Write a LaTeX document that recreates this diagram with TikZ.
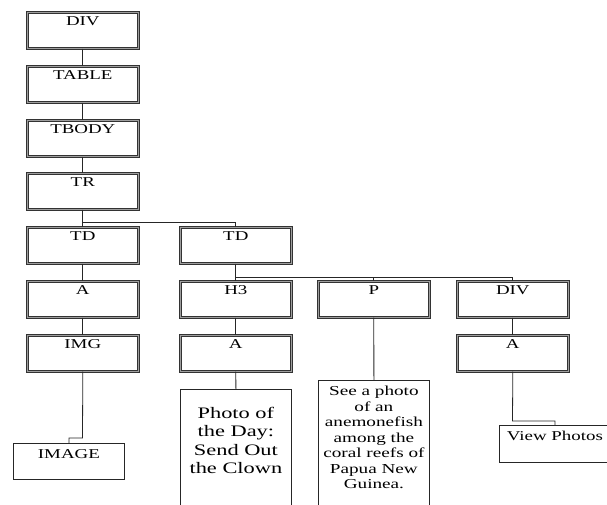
\documentclass[tikz,border=0pt]{standalone}
\usepackage{fontspec}
\setmainfont{Liberation Serif}
\begin{document}
\begin{tikzpicture}[x=1pt,y=-1pt,
  dbox/.style={draw=black!80, line width=0.6pt, double=black!38, double distance=1.6pt,
    minimum width=111pt, minimum height=36pt, anchor=north west, inner sep=0pt},
  sbox/.style={draw=black!85, line width=0.8pt, anchor=north west, inner sep=0pt,
    minimum width=111pt},
  lab/.style={anchor=north, inner sep=0pt, yshift=-4.5pt, xscale=1.4, transform shape,
    font=\fontsize{13.5}{15.5}\selectfont},
  conn/.style={draw=black!85, line width=0.8pt}]
\useasboundingbox (0,0) rectangle (607,504);
\clip (0,0) rectangle (607,504);
% column 1
\node[dbox, label={[lab]north:DIV}] (div) at (27,12) {};
\node[dbox, label={[lab]north:TABLE}] (table) at (27,66) {};
\node[dbox, label={[lab]north:TBODY}] (tbody) at (27,120) {};
\node[dbox, label={[lab]north:TR}] (tr) at (27,173) {};
\node[dbox, label={[lab]north:TD}] (td1) at (27,227) {};
\node[dbox, label={[lab]north:A}] (a1) at (27,281) {};
\node[dbox, label={[lab]north:IMG}] (img) at (27,335) {};
\node[sbox, minimum height=36pt, label={[lab,yshift=-1.5pt]north:IMAGE}] (image) at (13,443) {};
% column 2
\node[dbox, label={[lab]north:TD}] (td2) at (180,227) {};
\node[dbox, label={[lab]north:H3}] (h3) at (180,281) {};
\node[dbox, label={[lab]north:A}] (a2) at (180,335) {};
\node[sbox, minimum height=140pt, label={[lab, yshift=-13.5pt, align=center,
  font=\fontsize{16}{18.3}\selectfont]north:Photo of\\the Day:\\Send Out\\the Clown}] (photo) at (180,389) {};
% column 3
\node[dbox, label={[lab]north:P}] (p) at (318,281) {};
\node[sbox, minimum height=150pt, label={[lab, yshift=-1.5pt, align=center,
  font=\fontsize{13.7}{15.5}\selectfont]north:See a photo\\of an\\anemonefish\\among the\\coral reefs of\\Papua New\\Guinea.}] (ptext) at (318,380) {};
% column 4
\node[dbox, label={[lab]north:DIV}] (div2) at (457,281) {};
\node[dbox, label={[lab]north:A}] (a4) at (457,335) {};
\node[sbox, minimum height=37pt, label={[lab,yshift=-1.5pt]north:View Photos}] (view) at (499,425) {};
% connectors
\coordinate (b1) at (82.5,438);
\coordinate (b2) at (82.5,222);
\coordinate (b3) at (235.5,277);
\coordinate (b4) at (512.5,421);
\draw[conn] (div.south) -- (table.north);
\draw[conn] (table.south) -- (tbody.north);
\draw[conn] (tbody.south) -- (tr.north);
\draw[conn] (tr.south) -- (td1.north);
\draw[conn] (b2) -| (td2.north);
\draw[conn] (td1.south) -- (a1.north);
\draw[conn] (a1.south) -- (img.north);
\draw[conn] (img.south) -- (b1) -| (image.north);
\draw[conn] (td2.south) -- (h3.north);
\draw[conn] (b3) -| (p.north);
\draw[conn] (b3) -| (div2.north);
\draw[conn] (h3.south) -- (a2.north);
\draw[conn] (a2.south) -- (photo.north);
\draw[conn] (p.south) -- (ptext.north);
\draw[conn] (div2.south) -- (a4.north);
\draw[conn] (a4.south) -- (b4) -| (view.north);
\end{tikzpicture}
\end{document}
